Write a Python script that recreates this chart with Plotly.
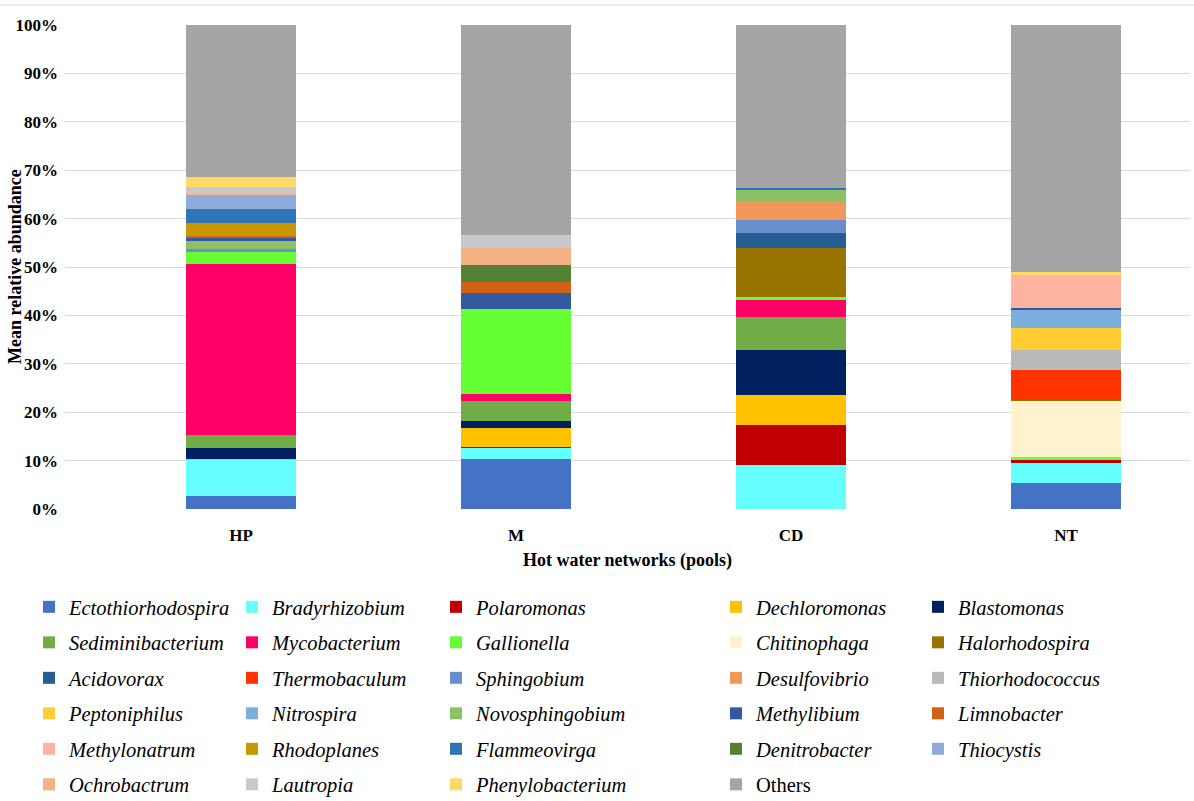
import plotly.graph_objects as go

# Pools (x categories)
pools = ["HP", "M", "CD", "NT"]

# Genera in stacking order (bottom to top) and their fill colours
genera = [
    "Ectothiorhodospira", "Bradyrhizobium", "Polaromonas", "Dechloromonas", "Blastomonas",
    "Sediminibacterium", "Mycobacterium", "Gallionella", "Chitinophaga", "Halorhodospira",
    "Acidovorax", "Thermobaculum", "Sphingobium", "Desulfovibrio", "Thiorhodococcus",
    "Peptoniphilus", "Nitrospira", "Novosphingobium", "Methylibium", "Limnobacter",
    "Methylonatrum", "Rhodoplanes", "Flammeovirga", "Denitrobacter", "Thiocystis",
    "Ochrobactrum", "Lautropia", "Phenylobacterium", "Others",
]
colors = [
    "#4472C4", "#66FFFF", "#C00000", "#FFC000", "#002060",
    "#70AD47", "#FF0066", "#66FF33", "#FFF2CC", "#997300",
    "#255E91", "#FF3300", "#698ED0", "#F1975A", "#B9B9B9",
    "#FFCD33", "#7CAFDD", "#8CC168", "#335AA1", "#D26015",
    "#FFB3A1", "#C99700", "#2E75B6", "#548235", "#8FAADC",
    "#F4B183", "#C9C9C9", "#FFD966", "#A5A5A5",
]

# Mean relative abundance (%) per pool, in genus order
hp = [2.6, 7.6, 0.0, 0.15, 2.2, 2.7, 35.4, 2.6, 0.0, 0.0,
      0.0, 0.0, 0.4, 0.0, 0.0, 0.0, 0.0, 1.7, 0.7, 0.3,
      0.0, 2.8, 2.8, 0.1, 3.0, 0.1, 1.3, 2.2, 31.35]
m = [10.3, 2.4, 0.2, 3.8, 1.5, 4.05, 1.55, 17.5, 0.0, 0.0,
     0.0, 0.0, 0.0, 0.0, 0.0, 0.0, 0.0, 0.0, 3.3, 2.4,
     0.0, 0.0, 0.0, 3.5, 0.0, 3.5, 2.7, 0.0, 43.3]
cd = [0.0, 9.0, 8.3, 6.3, 9.3, 6.8, 3.5, 0.5, 0.0, 10.3,
      3.0, 0.0, 2.8, 3.6, 0.0, 0.0, 0.0, 2.45, 0.0, 0.0,
      0.0, 0.0, 0.45, 0.0, 0.0, 0.0, 0.0, 0.0, 33.7]
nt = [5.3, 4.3, 0.7, 0.0, 0.0, 0.0, 0.0, 0.35, 11.75, 0.2,
      0.0, 6.2, 0.0, 0.0, 4.1, 4.5, 3.9, 0.0, 0.25, 0.0,
      6.75, 0.0, 0.0, 0.0, 0.0, 0.0, 0.0, 0.75, 50.95]

ytick_vals = list(range(0, 101, 10))
ytick_text = [f"{v}%" for v in ytick_vals]

SERIF = "Liberation Serif, Times New Roman, serif"

fig = go.Figure()
legend_ids = ["legend", "legend2", "legend3", "legend4", "legend5"]
for i, (g, c) in enumerate(zip(genera, colors)):
    label = g if g == "Others" else f"<i>{g}</i>"
    fig.add_trace(go.Bar(
        x=pools,
        y=[hp[i], m[i], cd[i], nt[i]],
        name=label,
        marker=dict(color=c, line=dict(width=0)),
        width=0.4,
        legend=legend_ids[i % 5],
        legendgroup=g,
    ))

# Plot area geometry in pixels
W, H = 1194, 801
L, R, T, B = 65, 4, 25, 292
pw = W - L - R
ph = H - T - B


def px_x(x):
    return (x - L) / pw


def px_y(y):
    return (H - B - y) / ph


col_left = [29, 232, 436, 716, 918]
legend_common = dict(
    orientation="v", xanchor="left", yanchor="top",
    font=dict(family=SERIF, size=20.5, color="#000000"),
    traceorder="grouped", tracegroupgap=5.85,
    bgcolor="rgba(0,0,0,0)", borderwidth=0,
)
legend_layout = {}
for k, lid in enumerate(legend_ids):
    legend_layout[lid] = dict(x=px_x(col_left[k]), y=px_y(587), **legend_common)

fig.update_layout(
    width=W, height=H,
    margin=dict(l=L, r=R, t=T, b=B, autoexpand=False),
    barmode="stack",
    bargap=0,
    plot_bgcolor="white",
    paper_bgcolor="white",
    font=dict(family=SERIF, color="#000000"),
    showlegend=True,
    xaxis=dict(
        range=[-0.64, -0.64 + pw / 275],
        tickfont=dict(family=SERIF, size=17, color="#000000", weight="bold"),
        ticklabelstandoff=14,
        title=dict(text="<b>Hot water networks (pools)</b>",
                   font=dict(family=SERIF, size=18, color="#000000"), standoff=9),
        showline=False, ticks="", showgrid=False, zeroline=False,
    ),
    yaxis=dict(
        range=[0, 100],
        tickvals=ytick_vals, ticktext=ytick_text,
        tickfont=dict(family=SERIF, size=17, color="#000000", weight="bold"),
        ticklabelstandoff=6,
        showgrid=True, gridcolor="#D9D9D9", gridwidth=1,
        zeroline=False, showline=False, ticks="",
    ),
    annotations=[dict(
        text="<b>Mean relative abundance</b>", textangle=-90,
        xref="paper", yref="paper", x=px_x(15), y=px_y(267),
        xanchor="center", yanchor="middle", showarrow=False,
        font=dict(family=SERIF, size=18, color="#000000"),
    )],
    shapes=[dict(type="line", xref="paper", yref="paper",
                 x0=px_x(0), x1=px_x(W), y0=px_y(5), y1=px_y(5),
                 line=dict(color="#D9D9D9", width=1))],
    **legend_layout,
)

fig.write_html("out.html")
